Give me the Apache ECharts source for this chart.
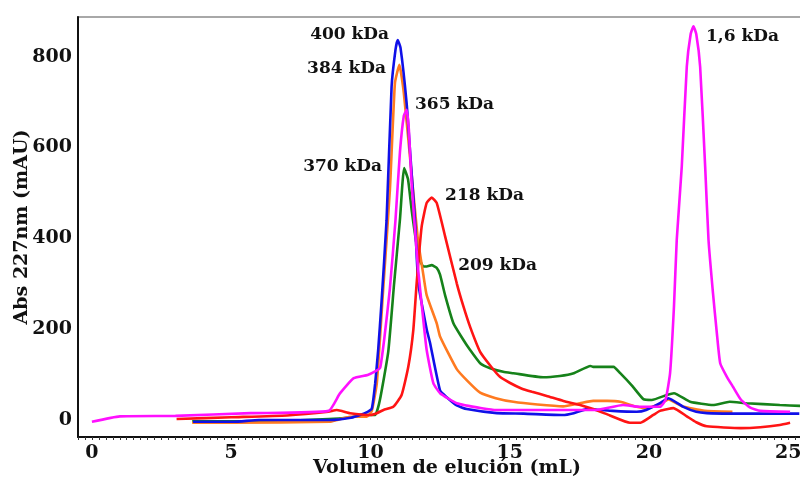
<!DOCTYPE html>
<html>
<head>
<meta charset="utf-8">
<script src="https://cdn.jsdelivr.net/npm/echarts@6/dist/echarts.min.js"></script>
<style>
  html, body { margin: 0; padding: 0; background: #fff; }
  #chart { width: 800px; height: 482px; }
</style>
</head>
<body>
<div id="chart"></div>
<script>
// Elution volumes (mL) and absorbance at 227 nm (mAU) for each run
const magentaVol = [0, 1.0, 3.0, 5.7, 8.5, 8.9, 9.4, 9.9, 10.2, 10.35, 10.5, 10.7, 10.9, 11.06, 11.2, 11.3, 11.38, 11.48, 11.7, 11.9, 12.02, 12.26, 12.5, 13.1, 14.0, 14.54, 16.9, 18.1, 19.07, 19.68, 20.4, 20.6, 20.76, 20.9, 21.0, 21.18, 21.36, 21.5, 21.6, 21.7, 21.84, 22.02, 22.14, 22.3, 22.44, 22.56, 22.8, 23.03, 23.3, 23.64, 24.0, 25.07];
const magentaAbs = [-4, 8, 9, 15, 20, 58, 92, 99, 108, 115, 180, 290, 440, 590, 670, 683, 640, 520, 340, 220, 154, 81, 59, 37, 26, 22, 22, 22, 33, 29, 29, 45, 103, 250, 397, 558, 778, 850, 867, 850, 778, 558, 397, 280, 191, 125, 95, 72, 45, 27, 20, 18];

const blueVol = [3.63, 5.1, 6.0, 8.55, 9.3, 9.63, 9.9, 10.05, 10.17, 10.28, 10.4, 10.58, 10.76, 10.9, 10.98, 11.08, 11.3, 11.42, 11.6, 11.72, 12.02, 12.14, 12.5, 12.74, 13.1, 13.46, 14.54, 15.5, 16.9, 17.3, 17.77, 18.7, 19.56, 19.9, 20.4, 20.7, 21.24, 21.7, 22.08, 22.9, 25.4];
const blueAbs = [-4, -4, 0, 0, 5, 11, 18, 25, 80, 155, 260, 440, 734, 815, 837, 820, 698, 595, 440, 301, 200, 170, 65, 50, 32, 24, 15, 14, 11, 15, 24, 20, 18, 22, 37, 48, 29, 18, 15, 14, 14];

const orangeVol = [3.6, 5.0, 8.55, 8.79, 9.27, 9.87, 10.05, 10.23, 10.45, 10.7, 10.88, 11.04, 11.2, 11.45, 11.7, 11.9, 12.02, 12.38, 12.5, 13.1, 13.5, 13.94, 14.5, 15.13, 16.0, 16.92, 17.53, 18.0, 18.5, 18.97, 19.56, 19.9, 20.4, 20.7, 21.2, 22.0, 23.0];
const orangeAbs = [-6, -6, -4, 0, 7, 7, 20, 81, 280, 507, 742, 782, 720, 560, 400, 320, 275, 213, 184, 112, 85, 60, 48, 40, 34, 30, 37, 42, 42, 40, 29, 26, 35, 45, 30, 20, 18];

const greenVol = [3.6, 6.0, 8.5, 9.3, 9.87, 10.17, 10.34, 10.64, 10.85, 11.06, 11.21, 11.35, 11.48, 11.65, 11.78, 11.9, 12.02, 12.2, 12.38, 12.5, 12.68, 12.98, 13.3, 13.58, 13.94, 14.3, 14.77, 15.13, 16.2, 16.8, 17.3, 17.9, 18.0, 18.73, 18.97, 19.4, 19.8, 20.1, 20.64, 20.9, 21.48, 22.3, 22.9, 23.5, 24.7, 25.43];
const greenAbs = [-3, -3, 2, 6, 11, 11, 44, 150, 300, 441, 555, 530, 463, 390, 352, 338, 338, 341, 335, 320, 275, 213, 180, 154, 125, 114, 106, 103, 94, 97, 103, 119, 117, 117, 103, 75, 46, 44, 55, 59, 40, 33, 40, 37, 33, 31];

const redVol = [3.04, 5.0, 7.0, 8.49, 8.79, 9.27, 9.99, 10.23, 10.47, 10.82, 11.12, 11.36, 11.54, 11.66, 11.84, 12.02, 12.2, 12.38, 12.68, 13.1, 13.34, 13.58, 13.94, 14.3, 14.65, 15.0, 15.4, 15.8, 16.33, 16.93, 17.53, 18.0, 18.6, 19.32, 19.7, 20.16, 20.4, 20.88, 21.36, 21.7, 22.08, 23.3, 24.0, 24.7, 25.07];
const redAbs = [2, 6, 10, 18, 22, 15, 11, 15, 22, 29, 55, 117, 198, 301, 426, 478, 490, 478, 405, 301, 250, 205, 150, 120, 95, 82, 70, 62, 53, 42, 33, 24, 10, -6, -6, 11, 20, 26, 8, -5, -14, -18, -16, -11, -6];

// Peak annotations: text, anchor volume, anchor absorbance, side of anchor
const peakNames = ['400 kDa', '384 kDa', '365 kDa', '370 kDa', '218 kDa', '209 kDa', '1,6 kDa'];
const peakVol = [10.67, 10.56, 11.6, 10.42, 12.68, 13.15, 22.05];
const peakAbs = [848, 773, 694, 557, 494, 339, 844];
const peakSide = ['left', 'left', 'right', 'left', 'right', 'right', 'right'];

// Tick labels shown on each axis
const xTickLabels = [0, 5, 10, 15, 20, 25];
const yTickLabels = [0, 200, 400, 600, 800];

const FONT = 'DejaVu Serif';

function zip(xs, ys) { return xs.map((x, i) => [x, ys[i]]); }
function near(v, list) { return list.some(t => Math.abs(v - t) < 1e-6); }

function line(name, color, xs, ys) {
  return {
    name: name,
    type: 'line',
    data: zip(xs, ys),
    showSymbol: false,
    smooth: 0.15,
    lineStyle: { color: color, width: 2.6 },
    itemStyle: { color: color },
    z: 3
  };
}

const series = [
  line('green', '#16821a', greenVol, greenAbs),
  line('orange', '#ff7a20', orangeVol, orangeAbs),
  line('blue', '#1010e8', blueVol, blueAbs),
  line('red', '#ff1414', redVol, redAbs),
  line('magenta', '#ff10ff', magentaVol, magentaAbs)
];

// Peak labels drawn as mark points in data coordinates
series.push({
  type: 'scatter',
  data: [],
  silent: true,
  markPoint: {
    symbol: 'circle',
    symbolSize: 0,
    silent: true,
    data: peakNames.map((n, i) => ({
      name: n,
      coord: [peakVol[i], peakAbs[i]],
      label: { position: peakSide[i], distance: 0 }
    })),
    label: {
      show: true,
      formatter: '{b}',
      color: '#111',
      fontFamily: FONT,
      fontWeight: 'bold',
      fontSize: 17
    }
  }
});

const chart = echarts.init(document.getElementById('chart'), null, { renderer: 'canvas' });
chart.setOption({
  animation: false,
  backgroundColor: '#fff',
  grid: {
    left: 78, top: 17, width: 738, height: 420,
    containLabel: false,
    outerBoundsMode: 'none',
    show: true, borderColor: '#a8a8a8', borderWidth: 2, backgroundColor: 'transparent'
  },
  xAxis: {
    type: 'value',
    min: -0.5, max: 26, interval: 0.25,
    name: 'Volumen de elución (mL)',
    nameLocation: 'middle',
    nameGap: 22,
    nameMoveOverlap: false,
    nameTextStyle: { fontFamily: FONT, fontWeight: 'bold', fontSize: 19, color: '#111' },
    axisLine: { onZero: false, lineStyle: { color: '#111', width: 2 } },
    axisTick: { show: true, length: 3, lineStyle: { color: '#333', width: 1 } },
    axisLabel: {
      margin: 7,
      fontFamily: FONT, fontWeight: 'bold', fontSize: 19, color: '#111',
      formatter: v => near(v, xTickLabels) ? String(Math.round(v)) : ''
    },
    splitLine: { show: false }
  },
  yAxis: {
    type: 'value',
    min: -37.5, max: 887.5, interval: 12.5,
    name: 'Abs 227nm (mAU)',
    nameLocation: 'middle',
    nameGap: 46,
    nameMoveOverlap: false,
    nameTextStyle: { fontFamily: FONT, fontWeight: 'bold', fontSize: 19, color: '#111' },
    axisLine: { onZero: false, lineStyle: { color: '#111', width: 2 } },
    axisTick: { show: false },
    axisLabel: {
      margin: 6,
      fontFamily: FONT, fontWeight: 'bold', fontSize: 19, color: '#111',
      formatter: v => near(v, yTickLabels) ? String(Math.round(v)) : ''
    },
    splitLine: { show: false }
  },
  series: series
});
</script>
</body>
</html>
